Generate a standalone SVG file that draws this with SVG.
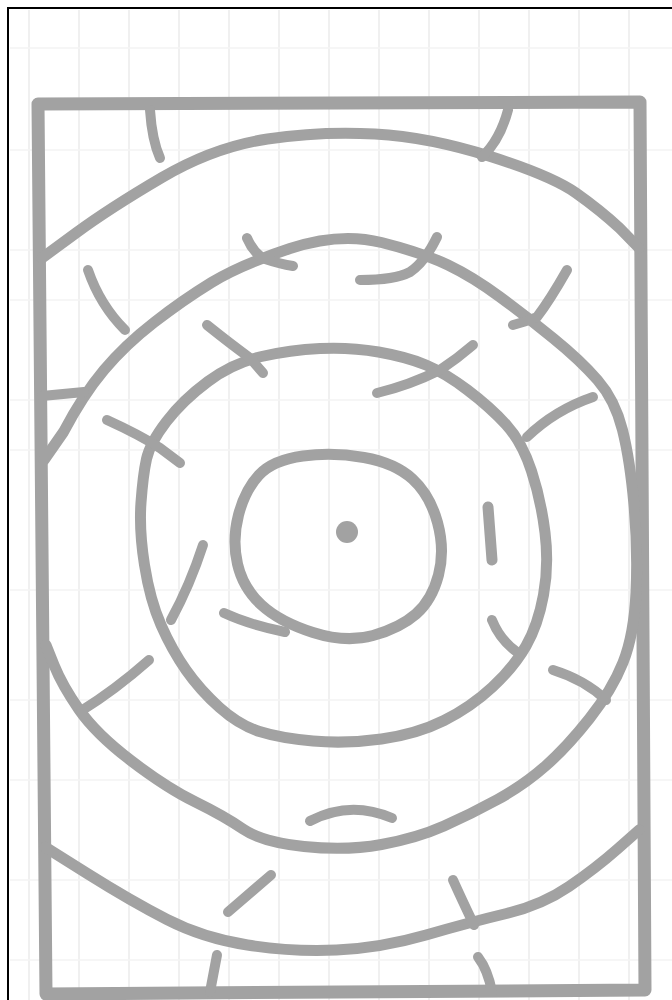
<svg xmlns="http://www.w3.org/2000/svg" width="672" height="1000" viewBox="0 0 672 1000">
<style>
.grid{stroke:#ebebeb;stroke-width:1.5;fill:none}
.gridh{stroke:#f3f3f3;stroke-width:1.5;fill:none}
.pen{fill:none;stroke:#a2a2a2;stroke-linecap:round;stroke-linejoin:round}
.edge{stroke-width:13}
.ring{stroke-width:11}
.tick{stroke-width:10}
</style>
<rect x="0" y="0" width="672" height="1000" fill="#ffffff"/>
<g id="paper-grid">
<path class="grid" d="M29,10V1000M79,10V1000M129,10V1000M179,10V1000M229,10V1000M279,10V1000M329,10V1000M379,10V1000M429,10V1000M479,10V1000M529,10V1000M579,10V1000M629,10V1000"/>
<path class="gridh" d="M10,48H672M10,150H672M10,250H672M10,300H672M10,400H672M10,450H672M10,590H672M10,700H672M10,780H672M10,880H672M10,960H672"/>
</g>
<rect id="photo-frame" x="8" y="8" width="680" height="1000" fill="none" stroke="#000" stroke-width="2"/>
<g id="sketch">
<path id="border" class="pen edge" d="M38,104 L640,102 L645,990 L46,994 Z"/>
<path id="top-band" class="pen ring" d="M42,258 L76,233 Q110,208 162,177.5 Q214,147 267.5,139 Q321,131 375,134 Q429,137 490.5,156.5 Q552,176 576,193 Q600,210 619.5,228 L639,248"/>
<path id="large-ring" class="pen ring" d="M44,460 L63.5,432 Q83,395 104,370 Q125,345 154,322.5 Q183,300 211.5,282.5 Q240,265 290,248.5 Q340,232 381.5,242.5 Q423,253 448,265 Q473,277 500,297 Q527,317 553.5,338.5 Q580,360 597.5,380 Q615,400 622.5,430 Q630,460 634,505 Q638,550 636,592.5 Q634,635 623,662.5 Q612,690 589.5,718.5 Q567,747 545.5,766 Q524,785 497.5,799.5 Q471,814 444,826 Q417,838 381.5,844.5 Q346,851 304,846.5 Q262,842 243,829 Q224,816 195.5,802 Q167,788 131.5,761 Q96,734 79,709.5 Q62,685 54,665 L46,645"/>
<path id="middle-ring" class="pen ring" d="M166.5,421.5 Q183,400 208,381.5 Q233,363 261.5,356.5 Q290,350 320,348.5 Q350,347 378.5,352 Q407,357 426,365 Q445,373 467.5,390 Q490,407 506,424.5 Q522,442 531.5,471 Q541,500 545,532.5 Q549,565 543.5,595 Q538,625 526,646 Q514,667 492.5,687 Q471,707 444,720.5 Q417,734 381.5,739 Q346,744 313,741 Q280,738 259.5,731.5 Q239,725 219.5,707.5 Q200,690 186,670 Q172,650 161,625 Q150,600 144.5,565 Q139,530 141,502.5 Q143,475 146.5,459 Q150,443 166.5,421.5 Z"/>
<path id="inner-ring" class="pen ring" d="M303,456 Q333,452 364,457.5 Q395,463 412.5,479 Q430,495 437.5,522.5 Q445,550 438.5,575 Q432,600 416,614 Q400,628 373,635.5 Q346,643 313,632.5 Q280,622 261.5,605 Q243,588 237.5,564 Q232,540 238.5,515 Q245,490 259,475 Q273,460 303,456 Z"/>
<path id="inner-tail" class="pen tick" d="M224,613 Q250,625 285,632"/>
<circle id="centre-dot" cx="347" cy="532" r="11" fill="#a2a2a2"/>
<path id="bottom-band" class="pen ring" d="M45,847 L88,874 Q131,901 167,919.5 Q203,938 247.5,945 Q292,952 336.5,950 Q381,948 426,935 Q471,922 506.5,913.5 Q542,905 569,886.5 Q596,868 617.5,849 L639,830"/>
</g>
<g id="ticks">
<path class="pen tick" d="M150,110 Q152,140 160,158"/>
<path class="pen tick" d="M508,110 Q500,140 482,157"/>
<path class="pen tick" d="M88,270 Q100,305 125,330"/>
<path class="pen tick" d="M42,396 L84,392"/>
<path class="pen tick" d="M247,238 Q252,250 262,258 Q280,264 293,266"/>
<path class="pen tick" d="M360,280 Q395,280 410,272 Q425,262 437,237"/>
<path class="pen tick" d="M567,270 Q550,300 537,317 Q525,322 513,325"/>
<path class="pen tick" d="M207,325 Q232,345 250,358 L263,373"/>
<path class="pen tick" d="M377,393 Q410,385 440,370 Q458,358 473,345"/>
<path class="pen tick" d="M107,420 Q140,435 160,448 L180,463"/>
<path class="pen tick" d="M527,437 Q555,410 593,397"/>
<path class="pen tick" d="M203,545 Q190,585 171,620"/>
<path class="pen ring" d="M488,507 L492,560"/>
<path class="pen tick" d="M492,620 Q500,640 517,652"/>
<path class="pen tick" d="M81,711 Q115,690 149,660"/>
<path class="pen tick" d="M553,670 Q585,680 606,700"/>
<path class="pen tick" d="M310,821 Q350,800 392,818"/>
<path class="pen tick" d="M228,912 L271,875"/>
<path class="pen tick" d="M453,880 Q462,900 474,925"/>
<path class="pen tick" d="M217,955 L210,992"/>
<path class="pen tick" d="M478,957 Q488,970 492,992"/>
</g>
</svg>
